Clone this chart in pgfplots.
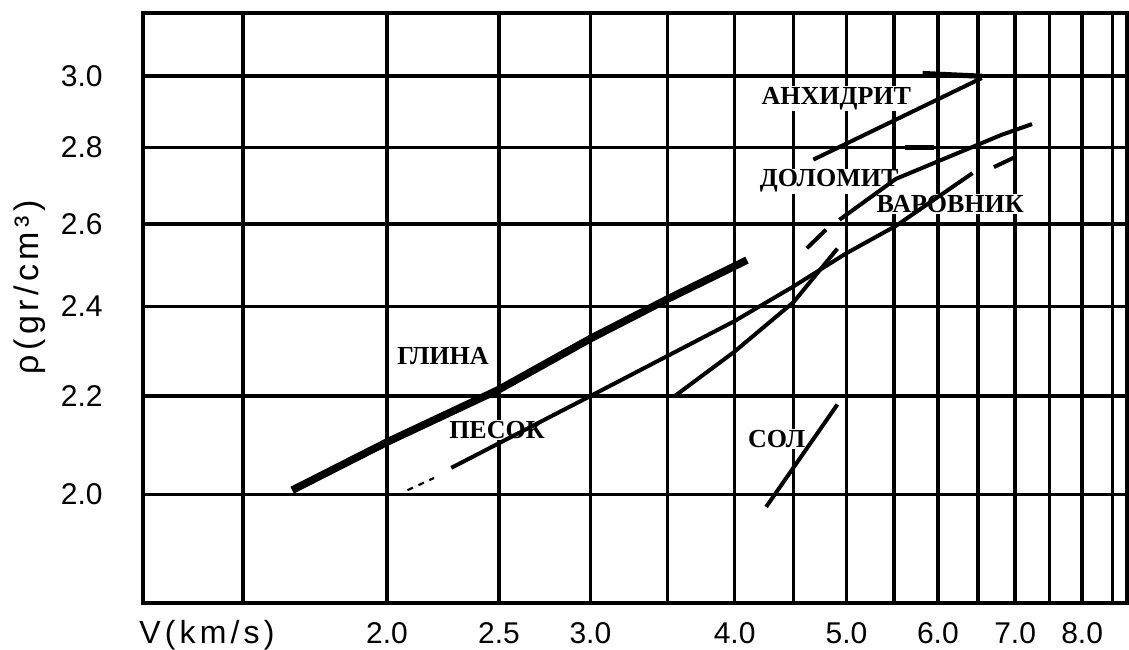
\documentclass[border=0pt]{standalone}
\usepackage{pgfplots}
\pgfplotsset{compat=1.18}
\usepackage{fontspec}
\setmainfont{Liberation Sans}
\newfontfamily\rockfont{Liberation Serif}
\newfontfamily\spacedfont[LetterSpace=13]{Liberation Sans}
\tikzset{rock/.style={font=\rockfont\bfseries\fontsize{13}{13}\selectfont, fill=white, inner sep=0.6pt}}

% Velocity--density relation for common rock types (log--log)
\begin{document}
\begin{tikzpicture}
\begin{axis}[
  scale only axis, width=492pt, height=295pt,
  xmode=log, ymode=log,
  xmin=1.229, xmax=8.75, ymin=1.8, ymax=3.19,
  xtick={1.5,2,2.5,3,3.5,4,4.5,5,5.5,6,6.5,7,7.5,8,8.5},
  xticklabels={,2.0,2.5,3.0,,4.0,,5.0,,6.0,,7.0,,8.0,},
  ytick={2.0,2.2,2.4,2.6,2.8,3.0},
  yticklabels={2.0,2.2,2.4,2.6,2.8,3.0},
  grid=major,
  major grid style={black, line width=1.8pt},
  major tick length=0pt,
  axis line style={black, line width=2.4pt},
  tick label style={font=\fontsize{15}{15}\selectfont},
  xticklabel style={anchor=base, inner sep=0pt, yshift=-20.5pt},
  yticklabel style={anchor=east, inner sep=0pt, xshift=-20pt},
  xlabel={V(km/s)},
  xlabel style={at={(axis description cs:0.065,0)}, anchor=base, inner sep=0pt, yshift=-20.5pt, font=\spacedfont\fontsize{16}{16}\selectfont},
  ylabel={ρ(gr/cm³)},
  ylabel style={at={(axis description cs:-0.115,0.535)}, anchor=center, inner sep=0pt, font=\spacedfont\fontsize{17}{17}\selectfont},
  clip=false,
]
% curve names
\node[rock] at (axis cs:4.90,2.936) {АНХИДРИТ};
\node[rock] at (axis cs:4.83,2.710) {ДОЛОМИТ};
\node[rock] at (axis cs:6.15,2.650) {ВАРОВНИК};
\node[rock] at (axis cs:2.236,2.287) {ГЛИНА};
\node[rock] at (axis cs:2.49,2.129) {ПЕСОК};
\node[rock] at (axis cs:4.35,2.111) {СОЛ};

% shale (clay)
\addplot[black, line width=3.8pt] coordinates {(1.655,2.008) (2.0,2.104) (2.5,2.214) (3.0,2.326) (3.5,2.417) (4.10,2.51)};
% sand
\addplot[black, line width=1.1pt, dashed] coordinates {(2.083,2.008) (2.196,2.032)};
\addplot[black, line width=2pt] coordinates {(2.273,2.052) (3.0,2.2) (4.0,2.366) (4.5,2.447) (5.0,2.527) (5.52,2.595) (6.43,2.731)};
\addplot[black, line width=2pt] coordinates {(6.71,2.747) (6.98,2.772)};
% limestone
\addplot[black, line width=2pt] coordinates {(3.55,2.2) (4.0,2.297) (4.5,2.41) (4.91,2.538)};
% dolomite
\addplot[black, line width=2pt] coordinates {(4.62,2.539) (4.80,2.585)};
\addplot[black, line width=2pt] coordinates {(4.93,2.61) (5.52,2.716) (6.81,2.834) (7.24,2.864)};
\addplot[black, line width=2.6pt] coordinates {(5.62,2.80) (5.95,2.80)};
% anhydrite
\addplot[black, line width=2pt] coordinates {(4.68,2.767) (6.55,2.995)};
\addplot[black, line width=2.6pt] coordinates {(5.82,3.008) (6.55,3.0)};
% salt
\addplot[black, line width=2pt] coordinates {(4.26,1.976) (4.91,2.182)};
\end{axis}
\pgfresetboundingbox
\path[use as bounding box] (-71.5pt,-23pt) rectangle (493pt,301.5pt);
\end{tikzpicture}
\end{document}
